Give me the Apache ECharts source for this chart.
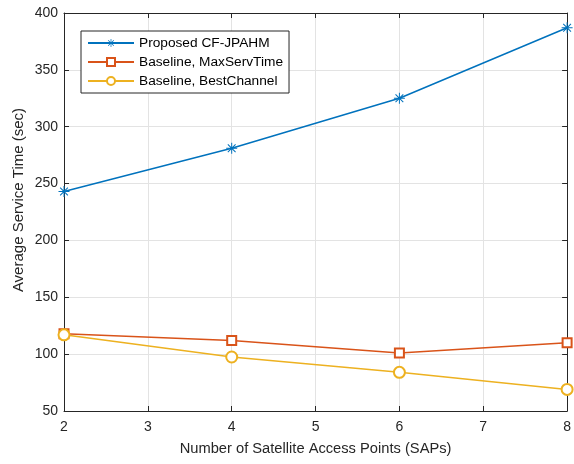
<!DOCTYPE html>
<html><head><meta charset="utf-8">
<script src="https://cdn.jsdelivr.net/npm/echarts@6/dist/echarts.min.js"></script>
<style>html,body{margin:0;padding:0;background:#fff}#c{width:574px;height:464px}</style>
</head><body><div id="c"></div>
<script>
const xValues = [2, 4, 6, 8];
const proposed = [243, 281, 325, 387];
const maxServTime = [118, 112, 101, 110];
const bestChannel = [117, 97.5, 84, 69];
const seriesNames = ['Proposed CF-JPAHM', 'Baseline, MaxServTime', 'Baseline, BestChannel'];

const asterisk = 'path://M-0.9,-10L0.9,-10L0.9,10L-0.9,10Z M-10,-0.9L10,-0.9L10,0.9L-10,0.9Z M-7.7,-6.4L-6.4,-7.7L7.7,6.4L6.4,7.7Z M6.4,-7.7L7.7,-6.4L-6.4,7.7L-7.7,6.4Z';
const axisColor = '#262626';
const font = 'Liberation Sans, Arial, sans-serif';
const pairs = a => xValues.map((x, i) => [x, a[i]]);

const chart = echarts.init(document.getElementById('c'), null, {renderer: 'canvas'});
chart.setOption({
  animation: false,
  backgroundColor: '#fff',
  grid: {left: 64, right: 6, top: 13, bottom: 53},
  legend: {
    left: 81, top: 31, orient: 'vertical',
    backgroundColor: '#fff', borderColor: '#262626', borderWidth: 1,
    padding: [5, 6, 5, 6], itemGap: 5, itemWidth: 46, itemHeight: 10,
    textStyle: {fontFamily: font, fontSize: 13.7, color: '#000'},
    data: seriesNames
  },
  xAxis: [{
    type: 'value', min: 2, max: 8, interval: 1,
    name: 'Number of Satellite Access Points (SAPs)', nameLocation: 'middle', nameGap: 30,
    nameTextStyle: {fontFamily: font, fontSize: 14.7, color: axisColor},
    axisLine: {lineStyle: {color: axisColor, width: 1}},
    axisTick: {inside: true, length: 5, lineStyle: {color: axisColor}},
    axisLabel: {fontFamily: font, fontSize: 14, color: axisColor, margin: 9},
    splitLine: {show: true, lineStyle: {color: '#e3e3e3', width: 1}}
  }, {
    type: 'value', position: 'top', min: 2, max: 8, interval: 1,
    axisLine: {show: true, onZero: false, lineStyle: {color: axisColor}},
    axisTick: {show: true, inside: true, length: 5, lineStyle: {color: axisColor}},
    axisLabel: {show: false}, splitLine: {show: false}
  }],
  yAxis: [{
    type: 'value', min: 50, max: 400, interval: 50,
    name: 'Average Service Time (sec)', nameLocation: 'middle', nameGap: 38,
    nameMoveOverlap: false,
    nameTextStyle: {fontFamily: font, fontSize: 15, color: axisColor, padding: [0, 0, 0, 24]},
    axisLine: {show: true, lineStyle: {color: axisColor, width: 1}},
    axisTick: {show: true, inside: true, length: 5, lineStyle: {color: axisColor}},
    axisLabel: {fontFamily: font, fontSize: 14, color: axisColor, margin: 6},
    splitLine: {show: true, lineStyle: {color: '#e3e3e3', width: 1}}
  }, {
    type: 'value', position: 'right', min: 50, max: 400, interval: 50,
    axisLine: {show: true, onZero: false, lineStyle: {color: axisColor}},
    axisTick: {show: true, inside: true, length: 5, lineStyle: {color: axisColor}},
    axisLabel: {show: false}, splitLine: {show: false}
  }],
  series: [{
    name: seriesNames[0], type: 'line', data: pairs(proposed),
    symbol: asterisk, symbolSize: 11, color: '#0072BD',
    lineStyle: {width: 1.5, color: '#0072BD'}, itemStyle: {color: '#0072BD'}
  }, {
    name: seriesNames[1], type: 'line', data: pairs(maxServTime),
    symbol: 'emptyRect', symbolSize: 9, color: '#D95319',
    lineStyle: {width: 1.5, color: '#D95319'}, itemStyle: {color: '#D95319', borderWidth: 1.5}
  }, {
    name: seriesNames[2], type: 'line', data: pairs(bestChannel),
    symbol: 'emptyCircle', symbolSize: 11, color: '#EDB120',
    lineStyle: {width: 1.5, color: '#EDB120'}, itemStyle: {color: '#EDB120', borderWidth: 1.5}
  }]
});
</script></body></html>
